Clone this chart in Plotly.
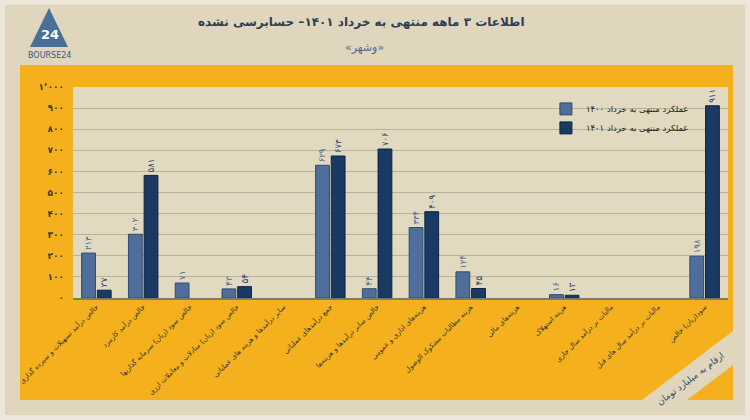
import plotly.graph_objects as go

categories = [
    "خالص درآمد تسهیلات و سپرده گذاری",
    "خالص درآمد کارمزد",
    "خالص سود (زیان) سرمایه گذاریها",
    "خالص سود (زیان) مبادلات و معاملات ارزی",
    "سایر درآمدها و هزینه های عملیاتی",
    "جمع درآمدهای عملیاتی",
    "خالص سایر درآمدها و هزینه‌ها",
    "هزینه‌های اداری و عمومی",
    "هزینه مطالبات مشکوک الوصول",
    "هزینه‌های مالی",
    "هزینه استهلاک",
    "مالیات بر درآمد سال جاری",
    "مالیات بر درآمد سال های قبل",
    "سود(زیان) خالص",
]
values_1400 = [213, 302, 71, 43, None, 629, 44, 334, 124, None, 16, None, None, 198]
values_1401 = [37, 581, None, 54, None, 673, 706, 409, 45, None, 13, None, None, 911]
series_names = ["عملکرد منتهی به خرداد ۱۴۰۰", "عملکرد منتهی به خرداد ۱۴۰۱"]
y_tick_vals = [0, 100, 200, 300, 400, 500, 600, 700, 800, 900, 1000]
y_tick_text = ["۰", "۱۰۰", "۲۰۰", "۳۰۰", "۴۰۰", "۵۰۰", "۶۰۰", "۷۰۰", "۸۰۰", "۹۰۰", "۱٬۰۰۰"]

FA = str.maketrans("0123456789", "۰۱۲۳۴۵۶۷۸۹")


def fa(v):
    return "" if v is None else str(v).translate(FA)


W, H = 750, 420
L, R, T, B = 73, 728, 87, 298


def px(x):
    return (x - L) / (R - L)


def py(y):
    return (B - y) / (B - T)


FONT = "DejaVu Sans"
ORANGE = "#f5b11d"
BEIGE = "#e2d9c1"
LIGHT = "#4f6f9a"
DARK = "#1b3a63"

fig = go.Figure()
fig.add_trace(go.Bar(
    x=categories, y=values_1400, name=series_names[0],
    marker=dict(color=LIGHT, line=dict(color="#2f4b70", width=1)),
    text=[fa(v) for v in values_1400], textposition="outside", textangle=-90,
    textfont=dict(family=FONT, size=9, color="#4a6690"), cliponaxis=False,
))
fig.add_trace(go.Bar(
    x=categories, y=values_1401, name=series_names[1],
    marker=dict(color=DARK, line=dict(color="#0e2442", width=1)),
    text=[fa(v) for v in values_1401], textposition="outside", textangle=-90,
    textfont=dict(family=FONT, size=9, color="#1f3b63"), cliponaxis=False,
))

shapes = [
    dict(type="rect", xref="paper", yref="paper", x0=px(4), x1=px(746), y0=py(416), y1=py(4),
         fillcolor="#e0d6be", line=dict(color="#ece6d8", width=2), layer="below"),
    dict(type="path", xref="paper", yref="paper",
         path=f"M {px(20)},{py(65)} L {px(733)},{py(65)} L {px(733)},{py(331)} L {px(642)},{py(400)} L {px(20)},{py(400)} Z",
         fillcolor=ORANGE, line=dict(width=0), layer="below"),
    dict(type="path", xref="paper", yref="paper",
         path=f"M {px(687)},{py(400)} L {px(733)},{py(400)} L {px(733)},{py(365)} Z",
         fillcolor=ORANGE, line=dict(width=0), layer="below"),
    dict(type="rect", xref="paper", yref="paper", x0=0, x1=1, y0=0, y1=1,
         fillcolor=BEIGE, line=dict(width=0), layer="below"),
    dict(type="path", xref="paper", yref="paper",
         path=f"M {px(49)},{py(8)} L {px(68)},{py(47)} L {px(30)},{py(47)} Z",
         fillcolor="#4a6f98", line=dict(width=0), layer="above"),
]


def ann(text, x, y, size, color, angle=0):
    return dict(text=text, x=px(x), y=py(y), xref="paper", yref="paper", showarrow=False,
                xanchor="center", yanchor="middle", textangle=angle,
                font=dict(family=FONT, size=size, color=color))


annotations = [
    ann("<b>اطلاعات ۳ ماهه منتهی به خرداد ۱۴۰۱– حسابرسی نشده</b>", 361, 22, 12, "#2f3f52"),
    ann("«وشهر»", 364, 48, 11, "#4f6a86"),
    ann("<b>24</b>", 50, 35, 13, "#ffffff"),
    ann("BOURSE24", 49, 55, 8, "#3d5878"),
    ann("ارقام به میلیارد تومان", 690, 379, 9, "#2c4a6b", -37),
]

fig.update_layout(
    width=W, height=H,
    margin=dict(l=L, r=W - R, t=T, b=H - B),
    paper_bgcolor="#ece7da", plot_bgcolor="rgba(0,0,0,0)",
    barmode="group", bargap=0.33, bargroupgap=0.12,
    showlegend=True,
    legend=dict(x=0.722, y=0.965, xanchor="left", yanchor="top",
                bgcolor="rgba(0,0,0,0)", font=dict(family=FONT, size=8.5, color="#222"),
                tracegroupgap=2, itemwidth=30),
    shapes=shapes, annotations=annotations,
    font=dict(family=FONT),
)
fig.update_yaxes(range=[0, 1000], tickvals=y_tick_vals,
                 ticktext=[f"<b>{t}</b>" for t in y_tick_text],
                 showgrid=True, gridcolor="#b9b19b", gridwidth=1, zeroline=False,
                 tickfont=dict(family=FONT, size=9, color="#3a3a3a"), ticklen=0,
                 ticks="", ticklabelstandoff=8, automargin=False)
fig.update_xaxes(tickangle=-45, tickfont=dict(family=FONT, size=7, color="#333"),
                 showline=True, linecolor="#7d7a70", linewidth=2, automargin=False,
                 ticks="")

fig.write_html("out.html")
